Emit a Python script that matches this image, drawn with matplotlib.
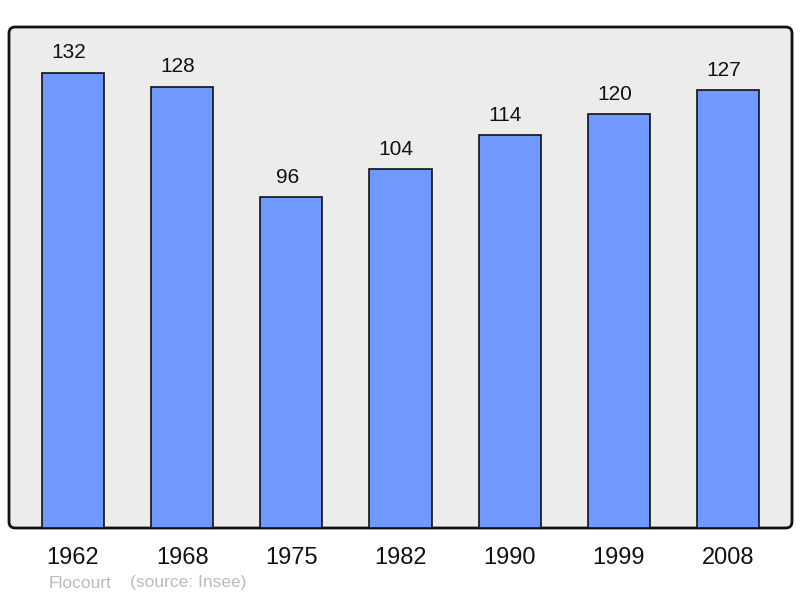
import matplotlib
matplotlib.use("Agg")
import matplotlib.pyplot as plt
from matplotlib.patches import FancyBboxPatch

years = ["1962", "1968", "1975", "1982", "1990", "1999", "2008"]
population = [132, 128, 96, 104, 114, 120, 127]
commune = "Flocourt"
source = "(source: Insee)"

plt.rcParams['font.family'] = ['Liberation Sans', 'DejaVu Sans']

fig = plt.figure(figsize=(8, 5.98), dpi=100)
ax = fig.add_axes([9/800, 70/598, 783/800, 501/598])
ax.set_facecolor('none')

bg = FancyBboxPatch((0, 0), 1, 1, boxstyle="round,pad=0,rounding_size=0.008",
                    transform=ax.transAxes, facecolor='#ececec', edgecolor='#111111',
                    linewidth=2, zorder=0, clip_on=False, mutation_aspect=783/501)
ax.add_patch(bg)

x = list(range(len(years)))
bars = ax.bar(x, population, width=0.57, color='#7099ff', edgecolor='#111111',
              linewidth=1.2, zorder=2)
for xi, v in zip(x, population):
    ax.annotate(str(v), (xi, v), xytext=(-3, 7.5), textcoords='offset points',
                ha='center', va='bottom', fontsize=15, color='#111111')

ax.set_xlim(-0.585, 6.585)
ax.set_ylim(0, 145.3)
ax.set_xticks(x)
ax.set_xticklabels(years, fontsize=17, color='#111111')
ax.tick_params(axis='x', length=0, pad=14)
ax.set_yticks([])
for s in ax.spines.values():
    s.set_visible(False)

fig.text(49/800, 1 - 583/598, commune, fontsize=12.5, color='#bbbbbb', va='center', ha='left')
fig.text(130/800, 1 - 583/598, source, fontsize=12.5, color='#bbbbbb', va='center', ha='left')

fig.savefig("out.png", dpi=100)
